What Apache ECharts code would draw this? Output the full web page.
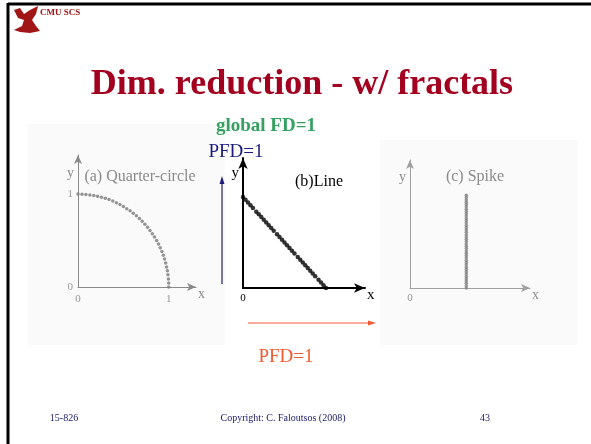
<!DOCTYPE html>
<html lang="en">
<head>
<meta charset="UTF-8">
<title>Dim. reduction - w/ fractals</title>
<script src="https://cdn.jsdelivr.net/npm/echarts@6/dist/echarts.min.js"></script>
<style>html,body{margin:0;padding:0;background:#fff;}</style>
</head>
<body>
<div id="main" style="width:591px;height:444px;"></div>
<script>
// (a) quarter-circle points
var circleX = [0.000, 0.044, 0.087, 0.131, 0.174, 0.216, 0.259, 0.301, 0.342, 0.383, 0.423, 0.462,
    0.500, 0.537, 0.574, 0.609, 0.643, 0.676, 0.707, 0.737, 0.766, 0.793, 0.819, 0.843, 0.866,
    0.887, 0.906, 0.924, 0.940, 0.954, 0.966, 0.976, 0.985, 0.991, 0.996, 0.999, 1.000];
var circleY = [1.000, 0.999, 0.996, 0.991, 0.985, 0.976, 0.966, 0.954, 0.940, 0.924, 0.906, 0.887,
    0.866, 0.843, 0.819, 0.793, 0.766, 0.737, 0.707, 0.676, 0.643, 0.609, 0.574, 0.537, 0.500,
    0.462, 0.423, 0.383, 0.342, 0.301, 0.259, 0.216, 0.174, 0.131, 0.087, 0.044, 0.000];

// (b) line points
var lineX = [0, 0.03, 0.06, 0.09, 0.12, 0.16, 0.19, 0.22, 0.25, 0.28, 0.31, 0.34, 0.37, 0.41, 0.44, 0.47,
    0.5, 0.53, 0.56, 0.59, 0.62, 0.66, 0.69, 0.72, 0.75, 0.78, 0.81, 0.84, 0.87, 0.91, 0.94, 0.97, 1.0];
var lineY = [1.0, 0.97, 0.94, 0.91, 0.88, 0.84, 0.81, 0.78, 0.75, 0.72, 0.69, 0.66, 0.63, 0.59, 0.56, 0.53,
    0.5, 0.47, 0.44, 0.41, 0.38, 0.34, 0.31, 0.28, 0.25, 0.22, 0.19, 0.16, 0.13, 0.09, 0.06, 0.03, 0];

// (c) spike points
var spikeX = 0.61;
var spikeY = [0, 0.025, 0.05, 0.075, 0.1, 0.125, 0.15, 0.175, 0.2, 0.225, 0.25, 0.275, 0.3, 0.325, 0.35,
    0.375, 0.4, 0.425, 0.45, 0.475, 0.5, 0.525, 0.55, 0.575, 0.6, 0.625, 0.65, 0.675, 0.7, 0.725, 0.75,
    0.775, 0.8, 0.825, 0.85, 0.875, 0.9, 0.925, 0.95, 0.975, 1];

var axisTicksA = [0, 1];

function pairs(xs, ys) {
    var out = [];
    for (var i = 0; i < xs.length; i++) out.push([xs[i], ys[i]]);
    return out;
}
var spikeData = [];
for (var i = 0; i < spikeY.length; i++) spikeData.push([spikeX, spikeY[i]]);

var serif = 'Liberation Serif, Times New Roman, serif';
var grayAxis = '#8a8a8a';

function onlyZero(v) { return v === 0 ? '0' : ''; }

var myChart = echarts.init(document.getElementById('main'));

myChart.setOption({
    backgroundColor: '#fff',
    animation: false,
    grid: [
        { left: 78, top: 155, width: 118, height: 132 },
        { left: 243, top: 158, width: 122, height: 130 },
        { left: 410, top: 160, width: 120, height: 128 }
    ],
    xAxis: [
        {
            gridIndex: 0, type: 'value', min: 0, max: 1.3, interval: 1,
            name: 'x', nameGap: 2,
            nameTextStyle: { color: grayAxis, fontFamily: serif, fontSize: 14, verticalAlign: 'top' },
            axisLine: { lineStyle: { color: grayAxis, width: 1 }, symbol: ['none', 'arrow'], symbolSize: [6, 9] },
            axisTick: { show: false }, splitLine: { show: false },
            axisLabel: { color: '#999', fontFamily: serif, fontSize: 11, margin: 7,
                formatter: function (v) { return axisTicksA.indexOf(v) >= 0 ? String(v) : ''; } }
        },
        {
            gridIndex: 1, type: 'value', min: 0, max: 1.47, interval: 1,
            name: 'x', nameGap: 2,
            nameTextStyle: { color: '#000', fontFamily: serif, fontSize: 15, verticalAlign: 'top' },
            axisLine: { lineStyle: { color: '#000', width: 2 }, symbol: ['none', 'arrow'], symbolSize: [7, 11] },
            axisTick: { show: false }, splitLine: { show: false },
            axisLabel: { color: '#000', fontFamily: serif, fontSize: 11, margin: 5, formatter: onlyZero }
        },
        {
            gridIndex: 2, type: 'value', min: 0, max: 1.3, interval: 1,
            name: 'x', nameGap: 2,
            nameTextStyle: { color: grayAxis, fontFamily: serif, fontSize: 14, verticalAlign: 'top' },
            axisLine: { lineStyle: { color: '#a0a0a0', width: 1 }, symbol: ['none', 'arrow'], symbolSize: [6, 9] },
            axisTick: { show: false }, splitLine: { show: false },
            axisLabel: { color: '#999', fontFamily: serif, fontSize: 11, margin: 5, formatter: onlyZero }
        }
    ],
    yAxis: [
        {
            gridIndex: 0, type: 'value', min: 0, max: 1.42, interval: 1,
            name: 'y', nameLocation: 'end', nameGap: -25,
            nameTextStyle: { color: grayAxis, fontFamily: serif, fontSize: 14, align: 'right', padding: [0, 4, 0, 0] },
            axisLine: { show: true, lineStyle: { color: grayAxis, width: 1 }, symbol: ['none', 'arrow'], symbolSize: [6, 9] },
            axisTick: { show: false }, splitLine: { show: false },
            axisLabel: { color: '#999', fontFamily: serif, fontSize: 11, margin: 5,
                formatter: function (v) { return axisTicksA.indexOf(v) >= 0 ? String(v) : ''; } }
        },
        {
            gridIndex: 1, type: 'value', min: 0, max: 1.43, interval: 1,
            name: 'y', nameLocation: 'end', nameGap: -23,
            nameTextStyle: { color: '#000', fontFamily: serif, fontSize: 15, align: 'right', padding: [0, 4, 0, 0] },
            axisLine: { show: true, lineStyle: { color: '#000', width: 2 }, symbol: ['none', 'arrow'], symbolSize: [7, 11] },
            axisTick: { show: false }, splitLine: { show: false },
            axisLabel: { show: false }
        },
        {
            gridIndex: 2, type: 'value', min: 0, max: 1.38, interval: 1,
            name: 'y', nameLocation: 'end', nameGap: -24,
            nameTextStyle: { color: grayAxis, fontFamily: serif, fontSize: 14, align: 'right', padding: [0, 4, 0, 0] },
            axisLine: { show: true, lineStyle: { color: '#a0a0a0', width: 1 }, symbol: ['none', 'arrow'], symbolSize: [6, 9] },
            axisTick: { show: false }, splitLine: { show: false },
            axisLabel: { show: false }
        }
    ],
    series: [
        {
            name: 'Quarter-circle', type: 'scatter', xAxisIndex: 0, yAxisIndex: 0,
            data: pairs(circleX, circleY), symbolSize: 3.5,
            itemStyle: { color: '#7a7a7a' }
        },
        {
            name: 'Line', type: 'scatter', xAxisIndex: 1, yAxisIndex: 1,
            data: pairs(lineX, lineY), symbolSize: 4.5,
            itemStyle: { color: '#000' }
        },
        {
            name: 'Spike', type: 'scatter', xAxisIndex: 2, yAxisIndex: 2,
            data: spikeData, symbolSize: 3.5,
            itemStyle: { color: '#808080' }
        }
    ],
    graphic: [
        // panel backgrounds
        { type: 'rect', z: -10, shape: { x: 27, y: 124, width: 198, height: 221 }, style: { fill: '#fafafa' } },
        { type: 'rect', z: -10, shape: { x: 380, y: 140, width: 198, height: 205 }, style: { fill: '#fafafa' } },
        // slide frame
        { type: 'line', shape: { x1: 8, y1: 4, x2: 591, y2: 4 }, style: { stroke: '#000', lineWidth: 3 } },
        { type: 'line', shape: { x1: 8, y1: 3, x2: 8, y2: 444 }, style: { stroke: '#000', lineWidth: 3 } },
        // logo
        { type: 'polygon', shape: { points: [[14, 10], [20, 8], [24, 14], [30, 10], [38, 6], [36, 14], [32, 20],
            [36, 26], [40, 31], [30, 33], [20, 32], [14, 30], [22, 26], [24, 20], [18, 18]] },
            style: { fill: '#a01515' } },
        { type: 'text', style: { x: 40, y: 13, text: 'CMU SCS', fill: '#a01515', font: 'bold 9px ' + serif, textVerticalAlign: 'middle' } },
        // heading
        { type: 'text', style: { x: 302, y: 85, text: 'Dim. reduction - w/ fractals', fill: '#a3001f',
            font: 'bold 36px ' + serif, textAlign: 'center', textVerticalAlign: 'middle' } },
        { type: 'text', style: { x: 266, y: 126, text: 'global FD=1', fill: '#35a060',
            font: 'bold 19px ' + serif, textAlign: 'center', textVerticalAlign: 'middle' } },
        { type: 'text', style: { x: 236, y: 152, text: 'PFD=1', fill: '#1a1a80',
            font: '19px ' + serif, textAlign: 'center', textVerticalAlign: 'middle' } },
        { type: 'text', style: { x: 286, y: 357, text: 'PFD=1', fill: '#f25a32',
            font: '19px ' + serif, textAlign: 'center', textVerticalAlign: 'middle' } },
        // panel captions
        { type: 'text', style: { x: 140, y: 177, text: '(a) Quarter-circle', fill: '#8a8a8a',
            font: '16px ' + serif, textAlign: 'center', textVerticalAlign: 'middle' } },
        { type: 'text', style: { x: 319, y: 182, text: '(b)Line', fill: '#000',
            font: '16px ' + serif, textAlign: 'center', textVerticalAlign: 'middle' } },
        { type: 'text', style: { x: 475, y: 177, text: '(c) Spike', fill: '#8a8a8a',
            font: '16px ' + serif, textAlign: 'center', textVerticalAlign: 'middle' } },
        // blue arrow
        { type: 'line', shape: { x1: 222, y1: 284, x2: 222, y2: 182 }, style: { stroke: '#1f1f7a', lineWidth: 1.2 } },
        { type: 'polygon', shape: { points: [[222, 176], [219.5, 184], [224.5, 184]] }, style: { fill: '#1f1f7a' } },
        // orange arrow
        { type: 'line', shape: { x1: 248, y1: 323, x2: 370, y2: 323 }, style: { stroke: '#f05a32', lineWidth: 1.2 } },
        { type: 'polygon', shape: { points: [[376, 323], [368, 320.5], [368, 325.5]] }, style: { fill: '#f05a32' } },
        // footer
        { type: 'text', style: { x: 64, y: 418, text: '15-826', fill: '#1a1a6a',
            font: '10px ' + serif, textAlign: 'center', textVerticalAlign: 'middle' } },
        { type: 'text', style: { x: 283, y: 418, text: 'Copyright: C. Faloutsos (2008)', fill: '#1a1a6a',
            font: '10px ' + serif, textAlign: 'center', textVerticalAlign: 'middle' } },
        { type: 'text', style: { x: 485, y: 418, text: '43', fill: '#1a1a6a',
            font: '10px ' + serif, textAlign: 'center', textVerticalAlign: 'middle' } }
    ]
});
</script>
</body>
</html>
